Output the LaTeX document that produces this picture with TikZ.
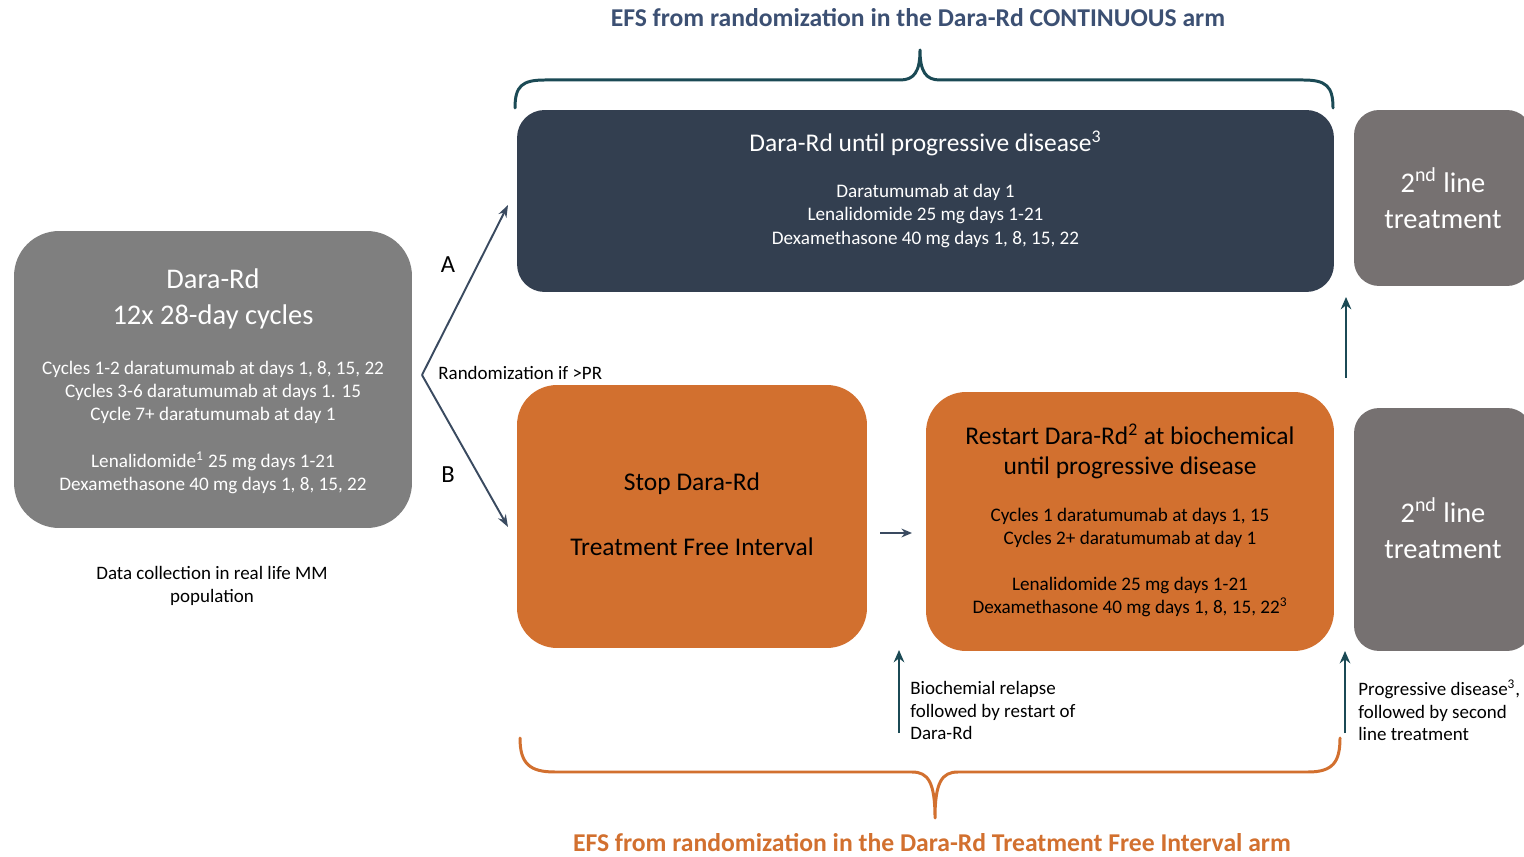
\documentclass[tikz,border=0pt]{standalone}
\usepackage{fontspec}
\setmainfont{Carlito}
\usepackage{xcolor}
\usepackage{tikz}
\usetikzlibrary{positioning,calc,arrows.meta}
\definecolor{navybox}{HTML}{333F50}
\definecolor{greyL}{HTML}{7F7F7F}
\definecolor{greyR}{HTML}{767171}
\definecolor{rust}{HTML}{D2702F}
\definecolor{inkblue}{HTML}{3C5073}
\definecolor{deepteal}{HTML}{1B4A55}
\definecolor{arrowink}{HTML}{3A4A60}
\tikzset{
  every node/.style={text=black, inner sep=0pt},
  card/.style n args={4}{
    rectangle, rounded corners=#4, fill=#1, draw=none,
    minimum width=#2, minimum height=#3
  },
  txtL/.style={font=\fontsize{16.2}{20.5}\selectfont, align=center},
  txtM/.style={font=\fontsize{14.5}{17}\selectfont, align=center},
  txtS/.style={font=\fontsize{10.9}{13.1}\selectfont, align=center},
  note/.style={font=\fontsize{10.8}{12.8}\selectfont, align=left, anchor=west},
  armtitle/.style={text=#1, font=\bfseries\fontsize{14.6}{16}\selectfont},
  brace/.style={draw=#1, line width=1.7pt, line cap=round, line join=round},
  randarrow/.style={-{Stealth[length=7pt,width=5pt]}, line width=1.1pt, draw=arrowink},
  uparrow/.style={-{Stealth[length=7pt,width=6pt]}, line width=1.6pt, draw=deepteal}
}

\begin{document}
\begin{tikzpicture}[x=0.02cm,y=-0.02cm]
\clip (0,0) rectangle (1524,857);
\fill[white] (0,0) rectangle (1524,857);

% =========================
% BOXES
% =========================
\node[card={greyL}{7.96cm}{5.94cm}{0.9cm}]     (intro)   at (213,379.5)  {};
\node[card={navybox}{16.34cm}{3.64cm}{0.55cm}] (cont)    at (925.5,201)  {};
\node[card={rust}{7.0cm}{5.26cm}{0.8cm}]       (stop)    at (692,516.5)  {};
\node[card={rust}{8.16cm}{5.18cm}{0.8cm}]      (restart) at (1130,521.5) {};
\node[card={greyR}{3.56cm}{3.52cm}{0.5cm}]     (lineA)   at (1443,198)   {};
\node[card={greyR}{3.56cm}{4.86cm}{0.5cm}]     (lineB)   at (1443,529.5) {};

% =========================
% BOX TEXTS
% =========================
\node[txtL, text=white] (introH) at ($(intro)+(0,-80.5)$) {Dara-Rd\\12x 28-day cycles};
\node[txtS, text=white] (introC) at ($(intro)+(0,13)$) {%
  Cycles 1-2 daratumumab at days 1, 8, 15, 22\\
  Cycles 3-6 daratumumab at days 1. 15\\
  Cycle 7+ daratumumab at day 1};
\node[txtS, text=white] (introD) at ($(intro)+(0,93)$) {%
  Lenalidomide\textsuperscript{1} 25 mg days 1-21\\
  Dexamethasone 40 mg days 1, 8, 15, 22};

\node[txtM, text=white] (contH) at ($(cont)+(0,-58)$) {Dara-Rd until progressive disease\textsuperscript{3}};
\node[txtS, text=white] (contD) at ($(cont)+(0,15)$) {%
  Daratumumab at day 1\\
  Lenalidomide 25 mg days 1-21\\
  Dexamethasone 40 mg days 1, 8, 15, 22};

\node[txtM] (stopA) at ($(stop)+(0,-32.5)$) {Stop Dara-Rd};
\node[txtM] (stopB) at ($(stop)+(0,30.5)$)  {Treatment Free Interval};

\node[txtM] (restartH) at ($(restart)+(0,-70.5)$) {%
  Restart Dara-Rd\textsuperscript{2} at biochemical\\until progressive disease};
\node[txtS] (restartC) at ($(restart)+(0,6.5)$) {%
  Cycles 1 daratumumab at days 1, 15\\
  Cycles 2+ daratumumab at day 1};
\node[txtS] (restartD) at ($(restart)+(0,75.5)$) {%
  Lenalidomide 25 mg days 1-21\\
  Dexamethasone 40 mg days 1, 8, 15, 22\textsuperscript{3}};

\node[txtL, text=white] (lineAT) at (lineA) {2\textsuperscript{nd} line\\treatment};
\node[txtL, text=white] (lineBT) at ($(lineB)+(0,-1)$) {2\textsuperscript{nd} line\\treatment};

\node[txtS, font=\fontsize{10.8}{13.1}\selectfont] (collect) at (212,586) {Data collection in real life MM\\population};

% =========================
% RANDOMIZATION
% =========================
\coordinate (rnd)  at (422,375);
\coordinate (rndA) at (508,205);
\coordinate (rndB) at (508,527);
\draw[randarrow] (rnd) -- (rndA);
\draw[randarrow] (rnd) -- (rndB);
\node[font=\fontsize{14}{16}\selectfont] (armA) at (448,265) {A};
\node[font=\fontsize{14}{16}\selectfont] (armB) at (448,475) {B};
\node[note] (rndT) at (438,373) {Randomization if >PR};

% =========================
% FLOW ARROWS + NOTES
% =========================
\coordinate (gapL) at (880,533);
\coordinate (gapR) at (912,533);
\draw[-{Stealth[length=6pt,width=5pt]}, line width=1.6pt, draw=arrowink] (gapL) -- (gapR);

\coordinate (pdTop) at (1346,378);
\coordinate (pdEnd) at (1346,297);
\draw[uparrow] (pdTop) -- (pdEnd);

\coordinate (bioL) at (899,733);
\coordinate (bioU) at (899,650);
\draw[uparrow] (bioL) -- (bioU);
\node[note] (bioT) at (910,710.5) {Biochemial relapse\\followed by restart of\\Dara-Rd};

\coordinate (pdL) at (1345,733);
\coordinate (pdU) at (1345,651);
\draw[uparrow] (pdL) -- (pdU);
\node[note] (pdT) at (1358,710.5) {Progressive disease\textsuperscript{3},\\followed by second\\line treatment};

% =========================
% BRACES + ARM TITLES
% =========================
\draw[brace=deepteal] (515,108) .. controls (515,86) and (522,80) .. (545,80) -- (900,80)
  .. controls (914,80) and (920,72) .. (920,50)
  .. controls (920,72) and (926,80) .. (940,80) -- (1303,80)
  .. controls (1326,80) and (1333,86) .. (1333,108);
\node[armtitle=inkblue] (titleC) at (918,18) {EFS from randomization in the Dara-Rd CONTINUOUS arm};

\draw[brace=rust] (520,738) .. controls (520,764) and (530,772) .. (555,772) -- (912,772)
  .. controls (928,772) and (935,782) .. (935,818)
  .. controls (935,782) and (942,772) .. (958,772) -- (1308,772)
  .. controls (1333,772) and (1340,762) .. (1340,738);
\node[armtitle=rust] (titleT) at (932,843) {EFS from randomization in the Dara-Rd Treatment Free Interval arm};

\end{tikzpicture}
\end{document}
